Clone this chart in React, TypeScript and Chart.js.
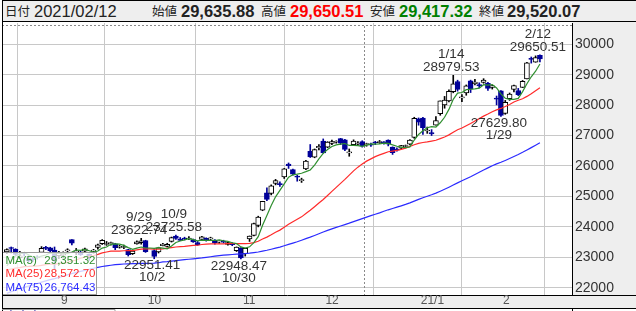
import { useEffect, useRef } from 'react';
import { Chart, registerables } from 'chart.js';

Chart.register(...registerables);

// ---- closes before the visible window (used only for the moving averages) ----
const priorCloses: number[] = [
  19138, 19429, 19262, 19783, 19771, 20193,
  19619, 19674, 20179, 20390, 20366, 20267, 19914, 20037, 20133, 20433, 20595, 20552, 20388, 20741, 21271, 21419, 21916, 21877,
  22062, 22325, 22613, 22695, 22863, 23178, 23091, 23124, 22472, 22305, 21530, 22582, 22455, 22355, 22478, 22437, 22549, 22534, 22259, 22512, 21995, 22288,
  22122, 22145, 22306, 22714, 22614, 22438, 22529, 22290, 22784, 22587, 22945, 22770, 22696, 22717, 22884, 22751, 22715, 22657, 22397, 22339, 21710,
  22195, 22573, 22514, 22418, 22329, 22750, 22843,
];

// ---- visible trading days ----
const dates: string[] = [
  '2020/08/13', '2020/08/14', '2020/08/17', '2020/08/18', '2020/08/19', '2020/08/20', '2020/08/21', '2020/08/24', '2020/08/25', '2020/08/26', '2020/08/27', '2020/08/28', '2020/08/31',
  '2020/09/01', '2020/09/02', '2020/09/03', '2020/09/04', '2020/09/07', '2020/09/08', '2020/09/09', '2020/09/10', '2020/09/11', '2020/09/14', '2020/09/15', '2020/09/16', '2020/09/17', '2020/09/18', '2020/09/23', '2020/09/24', '2020/09/25', '2020/09/28', '2020/09/29', '2020/09/30',
  '2020/10/01', '2020/10/02', '2020/10/05', '2020/10/06', '2020/10/07', '2020/10/08', '2020/10/09', '2020/10/12', '2020/10/13', '2020/10/14', '2020/10/15', '2020/10/16', '2020/10/19', '2020/10/20', '2020/10/21', '2020/10/22', '2020/10/23', '2020/10/26', '2020/10/27', '2020/10/28', '2020/10/29', '2020/10/30',
  '2020/11/02', '2020/11/04', '2020/11/05', '2020/11/06', '2020/11/09', '2020/11/10', '2020/11/11', '2020/11/12', '2020/11/13', '2020/11/16', '2020/11/17', '2020/11/18', '2020/11/19', '2020/11/20', '2020/11/24', '2020/11/25', '2020/11/26', '2020/11/27', '2020/11/30',
  '2020/12/01', '2020/12/02', '2020/12/03', '2020/12/04', '2020/12/07', '2020/12/08', '2020/12/09', '2020/12/10', '2020/12/11', '2020/12/14', '2020/12/15', '2020/12/16', '2020/12/17', '2020/12/18', '2020/12/21', '2020/12/22', '2020/12/23', '2020/12/24', '2020/12/25', '2020/12/28', '2020/12/29', '2020/12/30',
  '2021/01/04', '2021/01/05', '2021/01/06', '2021/01/07', '2021/01/08', '2021/01/12', '2021/01/13', '2021/01/14', '2021/01/15', '2021/01/18', '2021/01/19', '2021/01/20', '2021/01/21', '2021/01/22', '2021/01/25', '2021/01/26', '2021/01/27', '2021/01/28', '2021/01/29',
  '2021/02/01', '2021/02/02', '2021/02/03', '2021/02/04', '2021/02/05', '2021/02/08', '2021/02/09', '2021/02/10', '2021/02/12',
];

const opens: (number | null)[] = [
  23180, 23320, 23260, 22990, 23140, 22970, 22950, 23000, 23160, 23320, 23310, 23240, 23050,
  23070, 23210, 23580, 23180, 23130, 23200, 23100, 23200, 23320, 23450, 23420, 23450, 23440, 23330, 23320, 23250, 23120, 23440, 23480, 23550,
  null, 23220, 23180, 23380, 23360, 23520, 23700, 23600, 23620, 23600, 23580, 23480, 23590, 23620, 23600, 23560, 23500, 23530, 23420, 23460, 23220, 23310,
  23120, 23600, 23720, 24050, 24550, 25120, 25100, 25430, 25420, 25640, 26060, 25880, 25650, 25520, 25900, 26480, 26290, 26600, 26820,
  26620, 26740, 26780, 26900, 26860, 26430, 26700, 26720, 26800, 26700, 26700, 26790, 26770, 26780, 26850, 26620, 26560, 26590, 26640, 26720, 26940, 27550,
  27575, 27150, 27100, 27340, 27720, 28004, 28140, 28442, 28777, 28238, 28405, 28798, 28710, 28673, 28749, 28720, 28580, 28200, 28470,
  27730, 28210, 28515, 28480, 28586, 28863, 29524, 29409, 29635.88,
];
const highs: (number | null)[] = [
  23280, 23338, 23282, 23196, 23159, 23050, 22999, 23050, 23351, 23360, 23330, 23338, 23199,
  23180, 23280, 23580, 23290, 23200, 23300, 23110, 23262, 23430, 23582, 23520, 23500, 23460, 23400, 23400, 23260, 23230, 23540, 23622.74, 23560,
  null, 23250, 23330, 23460, 23460, 23665, 23725.58, 23650, 23660, 23680, 23600, 23520, 23690, 23640, 23660, 23580, 23540, 23560, 23500, 23480, 23340, 23320,
  23300, 23700, 24120, 24350, 24840, 25279, 25380, 25560, 25480, 25920, 26100, 25900, 25700, 25600, 26190, 26706, 26560, 26700, 26890,
  26800, 26850, 26830, 26910, 26880, 26560, 26860, 26800, 26830, 26750, 26750, 26810, 26840, 26800, 26860, 26630, 26600, 26680, 26690, 26870, 27602, 27580,
  27602, 27280, 27196, 27624, 28139, 28287, 28503, 28979.53, 28820, 28349, 28664, 28822, 28846, 28735, 28870, 28751, 28657, 28300, 28475,
  28156, 28400, 28659, 28550, 28811, 29407, 29583, 29620, 29650.51,
];
const lows: (number | null)[] = [
  23120, 23137, 23059, 22965, 23041, 22850, 22861, 22940, 23150, 23250, 23180, 22605, 22950,
  22970, 23160, 23410, 23080, 23060, 23170, 22900, 23130, 23270, 23420, 23390, 23400, 23250, 23300, 23280, 23040, 23090, 23430, 23430, 23160,
  null, 22951.41, 23140, 23370, 23340, 23500, 23590, 23550, 23570, 23580, 23490, 23390, 23580, 23530, 23570, 23430, 23460, 23470, 23400, 23380, 23190, 22948.47,
  23040, 23520, 23700, 24000, 24530, 24860, 25050, 25380, 25330, 25590, 25920, 25700, 25500, 25460, 25880, 26280, 26270, 26530, 26420,
  26600, 26700, 26750, 26700, 26500, 26320, 26670, 26690, 26620, 26650, 26640, 26700, 26740, 26720, 26660, 26380, 26490, 26560, 26620, 26690, 26910, 27340,
  27040, 27073, 27002, 27340, 27667, 27899, 28110, 28406, 28460, 28111, 28325, 28414, 28663, 28570, 28720, 28485, 28528, 28009, 27629.8,
  27700, 28157, 28432, 28314, 28578, 28863, 29381, 29409, 29417.32,
];
const closes: (number | null)[] = [
  23249, 23289, 23096, 23051, 23110, 22880, 22920, 22985, 23296, 23290, 23208, 22882, 23139,
  23138, 23247, 23465, 23205, 23089, 23274, 23032, 23235, 23406, 23559, 23454, 23475, 23319, 23360, 23346, 23087, 23204, 23511, 23539, 23185,
  null, 23029, 23312, 23433, 23422, 23647, 23619, 23558, 23601, 23626, 23507, 23410, 23671, 23567, 23639, 23474, 23516, 23494, 23485, 23418, 23331, 22977,
  23295, 23695, 24105, 24325, 24839, 24905, 25349, 25520, 25385, 25906, 26014, 25728, 25634, 25527, 26165, 26296, 26537, 26644, 26433,
  26787, 26800, 26809, 26751, 26547, 26467, 26817, 26756, 26652, 26732, 26687, 26757, 26806, 26763, 26714, 26436, 26524, 26668, 26656, 26854, 27568, 27444,
  27258, 27158, 27055, 27490, 28139, 28164, 28456, 28698, 28519, 28242, 28633, 28523, 28756, 28631, 28822, 28546, 28635, 28197, 27663,
  28091, 28362, 28646, 28341, 28779, 29388, 29505, 29562, 29520.07,
];

const yTickValues: number[] = [22000, 23000, 24000, 25000, 26000, 27000, 28000, 29000, 30000];

const maPeriods: number[] = [5, 25, 75];
const maNames: string[] = ['MA(5)', 'MA(25)', 'MA(75)'];
const maLegendValues: string[] = ['29,351.32', '28,572.70', '26,764.43'];
const maColors: string[] = ['#2f8f2f', '#ff2b2b', '#2b2bff'];

const markerDate = '2020/12/14';

const markDates: string[] = ['2020/09/29', '2020/10/09', '2020/10/02', '2020/10/30', '2021/01/14', '2021/01/29', '2021/02/12'];
const markValues: number[] = [23622.74, 23725.58, 22951.41, 22948.47, 28979.53, 27629.8, 29650.51];
const markSides: string[] = ['above', 'above', 'below', 'below', 'above', 'below', 'above'];

const UP_FILL = '#ffffff';
const UP_LINE = '#000000';
const DOWN = '#000099';
const FONT = '"Liberation Sans", Arial, sans-serif';

function movingAverage(period: number): (number | null)[] {
  const all = [...priorCloses, ...closes];
  const out: (number | null)[] = [];
  for (let i = 0; i < closes.length; i++) {
    const vals: number[] = [];
    for (let j = priorCloses.length + i; j >= 0 && vals.length < period; j--) {
      const v = all[j];
      if (v != null) vals.push(v);
    }
    out.push(vals.length === period ? vals.reduce((a, b) => a + b, 0) / period : null);
  }
  return out;
}

const fmt = (v: number) => v.toLocaleString('en-US', { minimumFractionDigits: 2, maximumFractionDigits: 2 });

export default function App() {
  const ref = useRef<HTMLCanvasElement>(null);

  useEffect(() => {
    const canvas = ref.current;
    if (!canvas) return;

    const candles = dates
      .map((d, i) => ({ i, o: opens[i], h: highs[i], l: lows[i], c: closes[i] }))
      .filter((k) => k.c != null && k.o != null) as { i: number; o: number; h: number; l: number; c: number }[];
    const wickData = candles.map((k) => ({ x: k.i, y: [k.l, k.h], up: k.c >= k.o }));
    const bodyData = candles.map((k) => ({ x: k.i, y: [k.o, k.c], up: k.c >= k.o }));

    const monthStarts = dates
      .map((_, i) => i)
      .filter((i) => i > 0 && dates[i].slice(5, 7) !== dates[i - 1].slice(5, 7));
    const monthLabel = (i: number) => {
      const [y, m] = dates[i].split('/');
      return m === '01' ? `${y.slice(2)}/${+m}` : `${+m}`;
    };

    const maSets = maPeriods.map((p, n) => ({
      type: 'line' as const,
      data: movingAverage(p).map((v, i) => ({ x: i, y: v })),
      borderColor: maColors[n],
      borderWidth: 1.2,
      pointRadius: 0,
      spanGaps: true,
      order: 1,
    }));

    const framePlugin = {
      id: 'frame',
      beforeDraw(chart: any) {
        const { ctx, chartArea: a, width, height } = chart;
        ctx.save();
        ctx.fillStyle = '#ffffff';
        ctx.fillRect(0, 0, width, height);
        ctx.fillStyle = '#eeeeee';
        ctx.fillRect(a.right, 0, width - a.right, a.bottom);
        ctx.fillRect(a.left, a.bottom, width - a.left, 13);
        ctx.restore();
      },
      beforeDatasetsDraw(chart: any) {
        const { ctx, chartArea: a, scales } = chart;
        ctx.save();
        ctx.strokeStyle = '#8a8a8a';
        ctx.lineWidth = 1;
        ctx.setLineDash([2, 2]);
        ctx.beginPath();
        ctx.moveTo(a.left, a.top + 2.5);
        ctx.lineTo(a.right, a.top + 2.5);
        ctx.stroke();
        const mi = dates.indexOf(markerDate);
        const mx = Math.round(scales.x.getPixelForValue(mi - 0.5)) + 0.5;
        ctx.beginPath();
        ctx.moveTo(mx, a.top + 3);
        ctx.lineTo(mx, a.bottom);
        ctx.stroke();
        ctx.restore();
      },
      afterDraw(chart: any) {
        const { ctx, chartArea: a, scales, width, height } = chart;
        ctx.save();
        // high / low annotations
        ctx.font = `13.5px ${FONT}`;
        ctx.fillStyle = '#333333';
        ctx.textAlign = 'center';
        ctx.textBaseline = 'middle';
        markDates.forEach((d, n) => {
          const i = dates.indexOf(d);
          const x = scales.x.getPixelForValue(i) - 2;
          const y = scales.y.getPixelForValue(markValues[n]);
          const parts = d.split('/');
          const lbl = `${+parts[1]}/${+parts[2]}`;
          const val = markValues[n].toFixed(2);
          if (markSides[n] === 'above') {
            ctx.fillText(val, x, y - 8);
            ctx.fillText(lbl, x, y - 21);
          } else {
            ctx.fillText(val, x, y + 7);
            ctx.fillText(lbl, x, y + 19);
          }
        });

        // MA legend box
        const bx = a.left + 0.5, by = a.bottom - 42.5, bw = 94, bh = 42;
        ctx.fillStyle = 'rgba(255,255,255,0.78)';
        ctx.fillRect(bx, by, bw, bh);
        ctx.strokeStyle = '#9a9a9a';
        ctx.lineWidth = 1;
        ctx.strokeRect(bx, by, bw, bh);
        ctx.font = `11.5px ${FONT}`;
        ctx.textBaseline = 'middle';
        maNames.forEach((nm, n) => {
          const ry = by + 8 + n * 13.7;
          ctx.fillStyle = maColors[n];
          ctx.textAlign = 'left';
          ctx.fillText(nm, bx + 3, ry);
          ctx.textAlign = 'right';
          ctx.fillText(maLegendValues[n], bx + bw - 1, ry);
        });

        // frame lines
        ctx.strokeStyle = '#000000';
        ctx.lineWidth = 1;
        ctx.beginPath();
        ctx.moveTo(a.left + 0.5, 0);
        ctx.lineTo(a.left + 0.5, height);
        ctx.moveTo(a.right, a.bottom + 0.5);
        ctx.lineTo(width, a.bottom + 0.5);
        ctx.moveTo(a.left, a.bottom + 13.5);
        ctx.lineTo(width, a.bottom + 13.5);
        ctx.moveTo(a.right + 0.5, a.bottom + 13.5);
        ctx.lineTo(a.right + 0.5, height);
        ctx.stroke();

        // volume panel legend (cut off)
        ctx.strokeStyle = '#9a9a9a';
        ctx.beginPath();
        ctx.moveTo(a.left, a.bottom + 14.5);
        ctx.lineTo(a.left + 113, a.bottom + 14.5);
        ctx.lineTo(a.left + 113, height);
        ctx.stroke();
        ctx.fillStyle = '#1a1a99';
        ctx.textAlign = 'left';
        ctx.textBaseline = 'top';
        ctx.font = `12px "Noto Sans CJK JP", sans-serif`;
        ctx.fillText('出来高', a.left + 3, a.bottom + 15);
        ctx.restore();
      },
    };

    const chart = new Chart(canvas, {
      type: 'bar',
      data: {
        datasets: [
          ...maSets,
          {
            type: 'bar',
            data: bodyData as any,
            grouped: false,
            barThickness: 5,
            minBarLength: 1,
            borderWidth: 1,
            borderSkipped: false,
            backgroundColor: (c: any) => (c.raw && !c.raw.up ? DOWN : UP_FILL),
            borderColor: (c: any) => (c.raw && !c.raw.up ? DOWN : UP_LINE),
            order: 2,
          },
          {
            type: 'bar',
            data: wickData as any,
            grouped: false,
            barThickness: 1,
            borderWidth: 0,
            backgroundColor: (c: any) => (c.raw && !c.raw.up ? DOWN : UP_LINE),
            order: 3,
          },
        ] as any,
      },
      options: {
        animation: false,
        responsive: false,
        devicePixelRatio: 1,
        events: [],
        layout: { padding: { left: 2, top: 1, right: 0, bottom: 0 } },
        plugins: { legend: { display: false }, tooltip: { enabled: false } },
        scales: {
          x: {
            type: 'linear',
            min: -1.12,
            max: 130.4,
            offset: false,
            afterBuildTicks: (s: any) => {
              s.ticks = monthStarts.map((i) => ({ value: i - 0.5 }));
            },
            afterFit: (s: any) => {
              s.height = 16;
              s.paddingLeft = 0;
              s.paddingRight = 0;
            },
            grid: { color: '#c8c8c8', lineWidth: 1, drawTicks: false },
            border: { display: true, color: '#000000', width: 1 },
            ticks: {
              autoSkip: false,
              maxRotation: 0,
              minRotation: 0,
              align: 'start',
              padding: 0,
              color: '#555555',
              font: { family: FONT, size: 12, lineHeight: 1 },
              callback: (v: any) => {
                const i = monthStarts.find((m) => Math.abs(m - 0.5 - v) < 1e-6);
                return i == null ? '' : monthLabel(i);
              },
            },
          },
          y: {
            type: 'linear',
            position: 'right',
            min: 21760,
            max: 30700,
            afterBuildTicks: (s: any) => {
              s.ticks = yTickValues.map((v) => ({ value: v }));
            },
            afterFit: (s: any) => {
              s.width = 64;
              s.paddingTop = 0;
              s.paddingBottom = 0;
            },
            grid: { color: '#c8c8c8', lineWidth: 1, drawTicks: false },
            border: { display: true, color: '#000000', width: 1 },
            ticks: {
              padding: 3,
              color: '#333333',
              font: { family: FONT, size: 14 },
              callback: (v: any) => String(v),
            },
          },
        },
      } as any,
      plugins: [framePlugin],
    });

    return () => chart.destroy();
  }, []);

  const last = dates.length - 1;
  const kanji = { fontFamily: '"Noto Sans CJK JP", sans-serif', fontSize: 12.5, color: '#222' };
  const num = { fontFamily: FONT, fontSize: 16.5, color: '#222' };
  const items: { left: number; text: string; style: any }[] = [
    { left: 2, text: '日付', style: kanji },
    { left: 31, text: dates[last], style: num },
    { left: 149, text: '始値', style: kanji },
    { left: 178, text: fmt(opens[last] as number), style: { ...num, fontWeight: 'bold' } },
    { left: 258, text: '高値', style: kanji },
    { left: 287, text: fmt(highs[last] as number), style: { ...num, fontWeight: 'bold', color: '#ff0000' } },
    { left: 367, text: '安値', style: kanji },
    { left: 396, text: fmt(lows[last] as number), style: { ...num, fontWeight: 'bold', color: '#008000' } },
    { left: 476, text: '終値', style: kanji },
    { left: 504, text: fmt(closes[last] as number), style: { ...num, fontWeight: 'bold' } },
  ];

  return (
    <div style={{ position: 'absolute', left: 0, top: 0, width: 636, height: 311, background: '#fff', overflow: 'hidden' }}>
      <div
        style={{
          position: 'absolute',
          left: 2,
          top: 0,
          width: 634,
          height: 22,
          boxSizing: 'border-box',
          background: '#eeeeee',
          borderLeft: '1px solid #000',
          borderTop: '1px solid #000',
          borderBottom: '1px solid #000',
        }}
      >
        {items.map((it, k) => (
          <span key={k} style={{ position: 'absolute', left: it.left, top: 0, lineHeight: '20px', whiteSpace: 'nowrap', ...it.style }}>
            {it.text}
          </span>
        ))}
      </div>
      <canvas ref={ref} width={636} height={289} style={{ position: 'absolute', left: 0, top: 22, width: 636, height: 289 }} />
    </div>
  );
}
